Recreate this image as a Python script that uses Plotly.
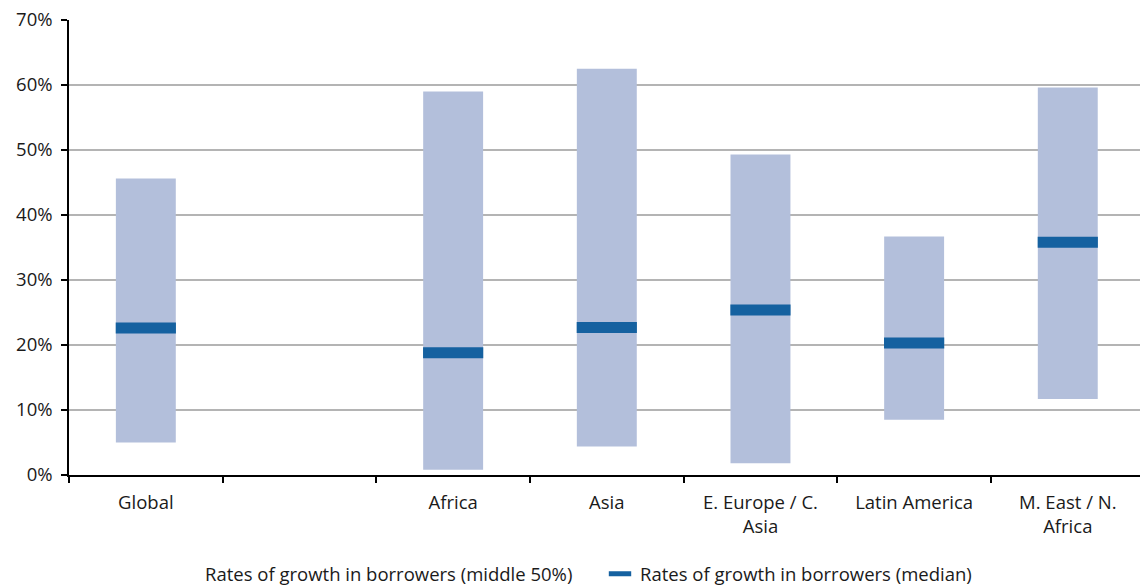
import plotly.graph_objects as go

# Borrower growth rates by region (percent)
regions = ["Global", " ", "Africa", "Asia", "E. Europe / C.<br>Asia",
           "Latin America", "M. East / N.<br>Africa"]
q_low = [5.0, None, 0.8, 4.4, 1.8, 8.5, 11.7]       # lower quartile
q_high = [45.6, None, 59.0, 62.5, 49.3, 36.7, 59.6]  # upper quartile
median = [22.6, None, 18.8, 22.7, 25.4, 20.3, 35.8]
y_ticks = [0, 10, 20, 30, 40, 50, 60, 70]
y_tick_text = [f"{v}%" for v in y_ticks]

band_color = "#B3BFDB"
median_color = "#1561A0"
font_family = "Open Sans, Noto Sans, sans-serif"
fs = 18.5

span = [None if lo is None else hi - lo for lo, hi in zip(q_low, q_high)]

fig = go.Figure()

# Interquartile band drawn as a floating bar
fig.add_trace(go.Bar(
    x=regions, y=span, base=q_low,
    marker=dict(color=band_color, line=dict(width=0)),
    width=0.39, showlegend=False, hoverinfo="skip",
))

# Legend entry for the band (text only)
fig.add_trace(go.Scatter(
    x=[None], y=[None], mode="none",
    name="Rates of growth in borrowers (middle 50%)",
))

# Median as a thick horizontal dash
fig.add_trace(go.Scatter(
    x=regions, y=median, mode="markers",
    name="Rates of growth in borrowers (median)",
    marker=dict(symbol="line-ew", size=43,
                line=dict(width=11, color=median_color),
                color=median_color),
    cliponaxis=False,
))

fig.update_layout(
    width=1140, height=586,
    margin=dict(l=69, r=0, t=20, b=111),
    paper_bgcolor="white", plot_bgcolor="white",
    font=dict(family=font_family, size=fs, color="#1a1a1a"),
    barmode="overlay",
    legend=dict(
        orientation="h", xref="container", yref="container",
        x=165 / 1140, xanchor="left", y=0.02, yanchor="middle",
        font=dict(size=fs), itemwidth=30, entrywidth=390,
    ),
)

fig.update_xaxes(
    type="category", categoryorder="array", categoryarray=regions,
    range=[-0.5, 6.47],
    showline=True, linecolor="#000000", linewidth=1.5,
    ticks="outside", tickson="boundaries", ticklen=6,
    tickcolor="#000000", tickwidth=1.5,
    showgrid=False, tickfont=dict(size=fs), ticklabelstandoff=10,
)
fig.update_yaxes(
    range=[0, 70], tickvals=y_ticks, ticktext=y_tick_text,
    showline=True, linecolor="#000000", linewidth=1.5,
    ticks="outside", ticklen=6, tickcolor="#000000", tickwidth=1.5,
    showgrid=True, gridcolor="#B4B4B4", gridwidth=1.5,
    zeroline=False, tickfont=dict(size=fs), ticklabelstandoff=5,
)

fig.write_html("out.html")
